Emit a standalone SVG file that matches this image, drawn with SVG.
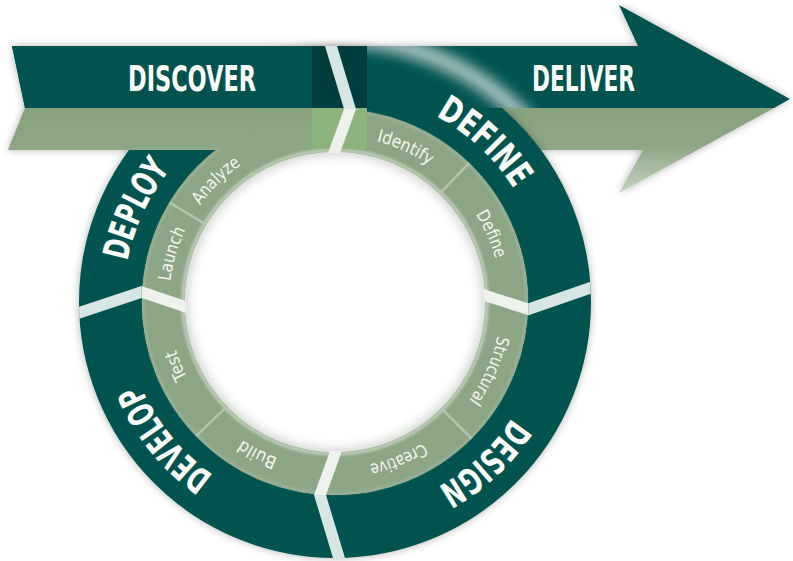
<svg xmlns="http://www.w3.org/2000/svg" xmlns:xlink="http://www.w3.org/1999/xlink" width="793" height="561" viewBox="0 0 793 561">
<style>
.big{font-family:"DejaVu Sans Condensed","Liberation Sans Narrow","DejaVu Sans","Liberation Sans",sans-serif;font-weight:bold;font-size:36px;fill:#ffffff;}
.small{font-family:"Liberation Sans Narrow","DejaVu Sans Condensed","Liberation Sans",sans-serif;font-size:17.5px;fill:#f3f6f1;}
.dark{fill:#02534f;}
.sub{stroke:#b3c5ac;stroke-width:2.5;}
</style>
<defs>
<filter id="sh" x="-10%" y="-10%" width="120%" height="130%">
<feGaussianBlur in="SourceAlpha" stdDeviation="4"/>
<feComponentTransfer><feFuncA type="linear" slope="0.3"/></feComponentTransfer>
<feMerge><feMergeNode/><feMergeNode in="SourceGraphic"/></feMerge>
</filter>
<filter id="b1" x="-20%" y="-20%" width="140%" height="140%"><feGaussianBlur stdDeviation="1"/></filter>
<filter id="b4" x="-20%" y="-20%" width="140%" height="140%"><feGaussianBlur stdDeviation="4.5"/></filter>
<filter id="b7" x="-30%" y="-30%" width="160%" height="160%"><feGaussianBlur stdDeviation="7"/></filter>
<linearGradient id="lg" x1="0" y1="108" x2="0" y2="193" gradientUnits="userSpaceOnUse">
<stop offset="0" stop-color="#88a27f"/><stop offset="0.45" stop-color="#8ca785"/><stop offset="1" stop-color="#c6d3c1"/>
</linearGradient>
<clipPath id="cl"><rect x="0" y="0" width="312" height="200"/></clipPath>
<clipPath id="cr"><rect x="367" y="46" width="300" height="62"/></clipPath>
<clipPath id="ci"><circle cx="335" cy="302" r="150"/></clipPath>
<path id="pb" d="M 123.5,302 A 211.5 211.5 0 1 1 546.5,302 A 211.5 211.5 0 1 1 123.5,302"/>
<path id="ps" d="M 169,302 A 166 166 0 1 1 501,302 A 166 166 0 1 1 169,302"/>
<g id="divider">
<polygon points="-10,-256 2,-256 21,-193 9,-193" fill="#d8e5e5"/>
<polygon points="9,-193 21,-193 5,-149 -7,-149" fill="#eef2ec"/>
</g>
<g id="arrowshape">
<polygon class="dark" points="12,46 638,46 619,5 790,99 774,108 25,108"/>
<polygon fill="url(#lg)" points="25,108 774,108 619,193 643,150 8,150"/>
</g>
</defs>

<!-- arrow (background layer) -->
<g id="arrow" filter="url(#sh)">
<use xlink:href="#arrowshape"/>
</g>

<!-- ring -->
<g id="ring">
<circle cx="335" cy="302" r="224.5" fill="none" stroke="#02534f" stroke-width="63" filter="url(#sh)"/>
<g clip-path="url(#cr)"><circle cx="335" cy="302" r="264" fill="none" stroke="#ffffff" stroke-width="16" opacity="0.7" filter="url(#b7)"/></g>
<circle cx="335" cy="302" r="171.5" fill="none" stroke="#8ca685" stroke-width="43"/>
<circle cx="335" cy="302" r="191.5" fill="none" stroke="#a3b69c" stroke-width="1.5" filter="url(#b1)"/>
<circle cx="335" cy="302" r="152" fill="none" stroke="#b9c9b3" stroke-width="4" filter="url(#b1)"/>
<circle cx="335" cy="302" r="150" fill="#ffffff"/>
<g clip-path="url(#ci)"><circle cx="335" cy="302" r="151" fill="none" stroke="#44563f" stroke-opacity="0.22" stroke-width="10" filter="url(#b4)"/></g>
</g>

<g id="subdividers">
<line class="sub" x1="439.2" y1="194.1" x2="469.1" y2="163.2"/>
<line class="sub" x1="441.1" y1="408.1" x2="471.5" y2="438.5"/>
<line class="sub" x1="227.1" y1="406.2" x2="196.2" y2="436.1"/>
<line class="sub" x1="206.4" y1="224.8" x2="169.6" y2="202.6"/>
</g>

<g id="dividers">
<use xlink:href="#divider" transform="translate(335,302) rotate(87.7)"/>
<use xlink:href="#divider" transform="translate(335,302) rotate(180)"/>
<use xlink:href="#divider" transform="translate(335,302) rotate(268.5)"/>
</g>

<g id="define">
<text class="big"><textPath xlink:href="#pb" startOffset="491" text-anchor="middle" textLength="108" lengthAdjust="spacingAndGlyphs">DEFINE</textPath></text>
<text class="small"><textPath xlink:href="#ps" startOffset="331.7" text-anchor="middle" textLength="58" lengthAdjust="spacingAndGlyphs">Identify</textPath></text>
<text class="small"><textPath xlink:href="#ps" startOffset="453.1" text-anchor="middle" textLength="49" lengthAdjust="spacingAndGlyphs">Define</textPath></text>
</g>
<g id="design">
<text class="big"><textPath xlink:href="#pb" startOffset="837.9" text-anchor="middle" textLength="102" lengthAdjust="spacingAndGlyphs">DESIGN</textPath></text>
<text class="small"><textPath xlink:href="#ps" startOffset="591" text-anchor="middle" textLength="71" lengthAdjust="spacingAndGlyphs">Structural</textPath></text>
<text class="small"><textPath xlink:href="#ps" startOffset="718.5" text-anchor="middle" textLength="58" lengthAdjust="spacingAndGlyphs">Creative</textPath></text>
</g>
<g id="develop">
<text class="big"><textPath xlink:href="#pb" startOffset="1184.9" text-anchor="middle" textLength="118" lengthAdjust="spacingAndGlyphs">DEVELOP</textPath></text>
<text class="small"><textPath xlink:href="#ps" startOffset="860.5" text-anchor="middle" textLength="40" lengthAdjust="spacingAndGlyphs">Build</textPath></text>
<text class="small"><textPath xlink:href="#ps" startOffset="979.3" text-anchor="middle" textLength="30" lengthAdjust="spacingAndGlyphs">Test</textPath></text>
</g>
<g id="deploy">
<text class="big"><textPath xlink:href="#pb" startOffset="92.3" text-anchor="middle" textLength="102" lengthAdjust="spacingAndGlyphs">DEPLOY</textPath></text>
<text class="small"><textPath xlink:href="#ps" startOffset="47.8" text-anchor="middle" textLength="54" lengthAdjust="spacingAndGlyphs">Launch</textPath></text>
<text class="small"><textPath xlink:href="#ps" startOffset="132.1" text-anchor="middle" textLength="58" lengthAdjust="spacingAndGlyphs">Analyze</textPath></text>
</g>

<!-- arrow front part over ring -->
<g id="discover">
<g clip-path="url(#cl)"><use xlink:href="#arrowshape"/></g>
<rect x="312" y="46" width="55" height="62" fill="#003d3c"/>
<rect x="312" y="108" width="55" height="41" fill="#8cb47c"/>
<use xlink:href="#divider" transform="translate(335,302)"/>
<text class="big" x="128" y="91" textLength="128" lengthAdjust="spacingAndGlyphs">DISCOVER</text>
</g>
<g id="deliver">
<text class="big" x="532" y="91" textLength="103" lengthAdjust="spacingAndGlyphs">DELIVER</text>
</g>
</svg>
